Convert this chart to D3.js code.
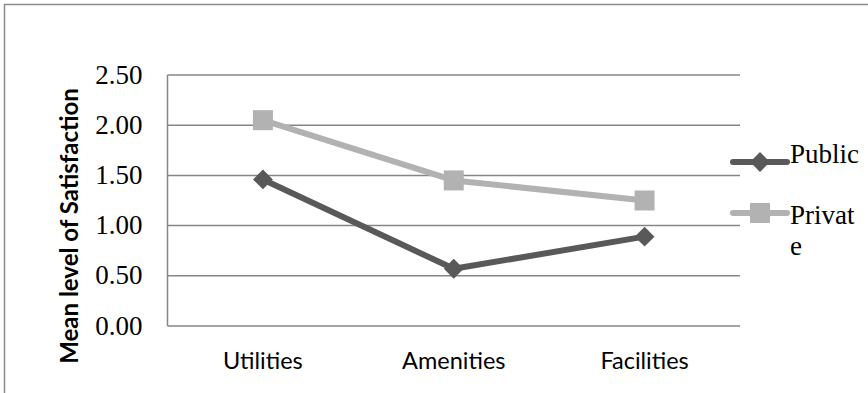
<!DOCTYPE html>
<html>
<head>
<meta charset="utf-8">
<script src="https://cdn.jsdelivr.net/npm/d3@7/dist/d3.min.js"></script>
<style>
  html, body { margin: 0; padding: 0; background: #fff; }
  svg { display: block; }
</style>
</head>
<body>
<svg id="chart" width="868" height="393"></svg>
<script>
// Mean satisfaction scores by service type
const categories = ["Utilities", "Amenities", "Facilities"];
const publicValues = [1.46, 0.57, 0.89];
const privateValues = [2.05, 1.45, 1.25];
const yTicks = [0, 0.5, 1.0, 1.5, 2.0, 2.5];
const seriesNames = ["Public", "Private"];

const svg = d3.select("#chart");
const W = 868, H = 393;
const plot = { left: 167.5, right: 740, top: 75, bottom: 326 };

// outer frame
svg.append("rect")
  .attr("x", 4.5).attr("y", 4.5)
  .attr("width", W + 10).attr("height", H + 10)
  .attr("fill", "none").attr("stroke", "#8c8c8c").attr("stroke-width", 1.5);

const x = d3.scaleBand().domain(categories).range([plot.left, plot.right]);
const y = d3.scaleLinear().domain([0, 2.5]).range([plot.bottom, plot.top]);

// horizontal gridlines
svg.append("g").selectAll("line").data(yTicks).join("line")
  .attr("x1", plot.left).attr("x2", plot.right)
  .attr("y1", d => y(d)).attr("y2", d => y(d))
  .attr("stroke", "#868686").attr("stroke-width", 1.5);

// y axis line
svg.append("line")
  .attr("x1", plot.left).attr("x2", plot.left)
  .attr("y1", y(2.5)).attr("y2", y(0))
  .attr("stroke", "#868686").attr("stroke-width", 1.5);

// y tick labels
const yAxis = d3.axisLeft(y).tickValues(yTicks).tickFormat(d3.format(".2f")).tickSize(0).tickPadding(25);
const gy = svg.append("g").attr("transform", `translate(${plot.left},0)`).call(yAxis);
gy.select(".domain").remove();
gy.selectAll("text")
  .attr("font-family", "'Liberation Serif', serif")
  .attr("font-size", 27).attr("fill", "#000")
  .attr("dy", "0.3em");

// x category labels
const xAxis = d3.axisBottom(x).tickSize(0).tickPadding(0);
const gx = svg.append("g").attr("transform", `translate(0,${plot.bottom})`).call(xAxis);
gx.select(".domain").remove();
gx.selectAll("text")
  .attr("font-family", "Lato, sans-serif")
  .attr("font-size", 23.5).attr("fill", "#000")
  .attr("y", 43).attr("dy", 0);

// y axis title
svg.append("text")
  .attr("transform", `translate(78,226) rotate(-90)`)
  .attr("text-anchor", "middle")
  .attr("font-family", "Lato, sans-serif")
  .attr("font-weight", "bold")
  .attr("font-size", 24)
  .text("Mean level of Satisfaction");

const colors = { Public: "#595959", Private: "#b2b2b2" };
const cx = d => x(d) + x.bandwidth() / 2;

const line = d3.line().x((d, i) => cx(categories[i])).y(d => y(d));

function drawMarker(g, type, px, py) {
  if (type === "Public") {
    const s = 14;
    g.append("rect")
      .attr("x", -s / 2).attr("y", -s / 2).attr("width", s).attr("height", s)
      .attr("transform", `translate(${px},${py}) rotate(45)`)
      .attr("fill", colors.Public);
  } else {
    const s = 20;
    g.append("rect")
      .attr("x", px - s / 2).attr("y", py - s / 2).attr("width", s).attr("height", s)
      .attr("fill", colors.Private);
  }
}

const seriesData = { Public: publicValues, Private: privateValues };

// private drawn first, public on top
["Private", "Public"].forEach(name => {
  const vals = seriesData[name];
  const g = svg.append("g");
  g.append("path")
    .attr("d", line(vals))
    .attr("fill", "none")
    .attr("stroke", colors[name])
    .attr("stroke-width", 6)
    .attr("stroke-linejoin", "round");
  vals.forEach((v, i) => drawMarker(g, name, cx(categories[i]), y(v)));
});

// legend
const legendY = { Public: 162, Private: 213 };
seriesNames.forEach(name => {
  const g = svg.append("g");
  const ly = legendY[name];
  g.append("line")
    .attr("x1", 733).attr("x2", 787).attr("y1", ly).attr("y2", ly)
    .attr("stroke", colors[name]).attr("stroke-width", 6).attr("stroke-linecap", "round");
  drawMarker(g, name, 760, ly);
  const t = g.append("text")
    .attr("font-family", "'Liberation Serif', serif")
    .attr("font-size", 27).attr("fill", "#000");
  if (name === "Private") {
    t.append("tspan").attr("x", 790).attr("y", ly + 11).text("Privat");
    t.append("tspan").attr("x", 790).attr("y", ly + 42).text("e");
  } else {
    t.attr("x", 790).attr("y", ly + 1).text(name);
  }
});
</script>
</body>
</html>
